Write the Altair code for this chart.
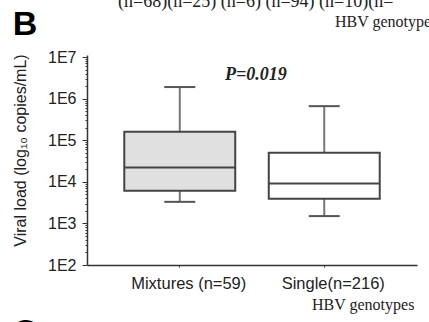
import altair as alt
import pandas as pd

# ---- data ----
groups = ["Mixtures (n=59)", "Single(n=216)"]
whisker_low = [3300, 1500]
q1 = [6100, 3900]
median = [22000, 9100]
q3 = [160000, 50000]
whisker_high = [1900000, 660000]
box_fill = ["#e0e0e0", "#ffffff"]

y_major = [1e2, 1e3, 1e4, 1e5, 1e6, 1e7]
y_minor = [m * d for d in y_major[:-1] for m in range(2, 10)]

panel_letter = "B"
next_letter = "C"
p_text = "P=0.019"
x_caption = "HBV genotypes"
top_counts = "(n=68)(n=25)  (n=6)  (n=94) (n=10)(n="

df = pd.DataFrame({
    "group": groups,
    "lo": whisker_low,
    "q1": q1,
    "med": median,
    "q3": q3,
    "hi": whisker_high,
})

SANS = "Liberation Sans"
SERIF = "Liberation Serif"

is_major = "abs(log(datum.value)/LN10 - round(log(datum.value)/LN10)) < 1e-6"

x_enc = alt.X(
    "group:N", sort=groups,
    scale=alt.Scale(paddingInner=0.232, paddingOuter=0.258),
    axis=alt.Axis(title=None, labelFont=SANS, labelFontSize=16.5, labelAngle=0,
                  labelColor="#222", labelOffset=9, labelPadding=8,
                  tickSize=2, tickColor="#333", domainColor="#333",
                  domainWidth=1.5, labelBaseline="top"),
)

y_scale = alt.Scale(type="log", domain=[100, 11200000], nice=False)
y_axis = alt.Axis(
    values=y_major + y_minor,
    labelExpr=f"({is_major}) ? '1E' + round(log(datum.value)/LN10) : ''",
    tickSize={"condition": {"test": is_major, "value": 5}, "value": 2},
    tickColor="#333", tickWidth=1, domainColor="#333", domainWidth=1.5,
    labelFont=SANS, labelFontSize=16, labelColor="#222", labelPadding=6,
    grid=False,
    title="Viral load (log\u2081\u2080 copies/mL)", titleFont=SANS,
    titleFontSize=16, titleFontWeight="normal", titleColor="#222",
    titleAngle=270, titleX=-67, titleY=95, titleAlign="center",
    titleBaseline="middle",
)

def Y(field):
    return alt.Y(f"{field}:Q", scale=y_scale, axis=y_axis)

base = alt.Chart(df)

whiskers = base.mark_rule(color="#777", strokeWidth=2).encode(
    x=x_enc, y=Y("lo"), y2="hi:Q")
boxes = base.mark_bar(stroke="#444", strokeWidth=2).encode(
    x=x_enc, y=Y("q1"), y2="q3:Q",
    fill=alt.Fill("group:N", scale=alt.Scale(domain=groups, range=box_fill),
                  legend=None))
med = base.mark_tick(size=111, thickness=2, color="#444", opacity=1).encode(
    x=x_enc, y=Y("med"))
cap_lo = base.mark_tick(size=31, thickness=2, color="#555", opacity=1).encode(
    x=x_enc, y=Y("lo"))
cap_hi = base.mark_tick(size=31, thickness=2, color="#555", opacity=1).encode(
    x=x_enc, y=Y("hi"))


def label(text, x, y, **kw):
    return alt.Chart(pd.DataFrame({"t": [text]})).mark_text(**kw).encode(
        x=alt.value(x), y=alt.value(y), text="t:N")

texts = [
    label(panel_letter, -62, -30, font=SANS, fontSize=34, fontWeight="bold",
          color="#000", align="center", baseline="middle"),
    label(next_letter, -62, 278, font=SANS, fontSize=34, fontWeight="bold",
          color="#000", align="center", baseline="middle"),
    label(p_text, 138, 20, font=SERIF, fontSize=18, fontWeight="bold",
          fontStyle="italic", color="#222", align="left", baseline="middle"),
    label(x_caption, 225, 250, font=SERIF, fontSize=16, color="#222",
          align="left", baseline="middle"),
    label(x_caption, 248, -33, font=SERIF, fontSize=16, color="#222",
          align="left", baseline="middle"),
    label(top_counts, 31, -53, font=SERIF, fontSize=18, color="#222",
          align="left", baseline="middle"),
]

chart = alt.layer(whiskers, boxes, med, cap_lo, cap_hi, *texts).properties(
    width=330, height=210,
    autosize=alt.AutoSizeParams(type="none"),
    padding={"left": 87, "top": 55, "right": 12, "bottom": 57},
    background="white",
).configure_view(stroke=None)

chart.save("out.html", embed_options={"renderer": "svg", "actions": False})
